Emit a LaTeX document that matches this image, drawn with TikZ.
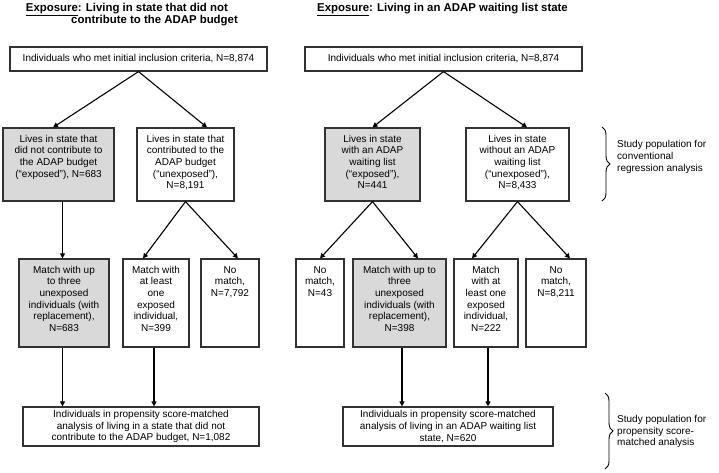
\documentclass[tikz,border=0pt]{standalone}
\usepackage{fontspec}
\setmainfont{Liberation Sans}
\usetikzlibrary{arrows.meta,decorations.pathreplacing}
\definecolor{boxgray}{RGB}{217,217,217}
\definecolor{edgegray}{RGB}{50,50,50}
\newcommand\mybx[3]{\parbox[c][#2][t]{#1}{\centering\rule{0pt}{14pt}#3\par}}
\begin{document}
\begin{tikzpicture}[x=1pt,y=-1pt,
  font=\fontsize{10}{11.7}\selectfont,
  box/.style={draw=edgegray, line width=1.2pt, inner sep=0pt, fill=white},
  gbox/.style={box, fill=boxgray},
  arr/.style={-{Triangle[length=5pt,width=5pt]}, line width=1.1pt, black},
  hdr/.style={font=\fontsize{11.4}{13}\selectfont\bfseries, inner sep=0pt},
  note/.style={anchor=west, align=left, inner sep=0pt},
  brc/.style={line width=0.9pt, decorate, decoration={brace, amplitude=8pt}}]
\useasboundingbox[fill=white] (0,0) rectangle (719,472);

% headers
\node[hdr, anchor=east] (h1) at (228,9.5) {\underline{Exposure}: Living in state that did not};
\node[hdr, anchor=east] (h2) at (238,20.5) {contribute to the ADAP budget};
\node[hdr, anchor=west] (h3) at (317,9.5) {\underline{Exposure}: Living in an ADAP waiting list state};

% top boxes
\node[box, minimum width=257, minimum height=24] (tL) at (138.5,59) {Individuals who met initial inclusion criteria, N=8,874};
\node[box, minimum width=277, minimum height=24] (tR) at (443.5,59) {Individuals who met initial inclusion criteria, N=8,874};

% second row
\node[gbox] (L1g) at (58.5,164.5) {\mybx{111pt}{73pt}{Lives in state that\\did not contribute to\\the ADAP budget\\(“exposed”), N=683}};
\node[box] (L1w) at (185.5,164.5) {\mybx{97pt}{73pt}{Lives in state that\\contributed to the\\ADAP budget\\(“unexposed”),\\N=8,191}};
\node[gbox] (R1g) at (372.5,164.5) {\mybx{95pt}{73pt}{Lives in state\\with an ADAP\\waiting list\\(“exposed”),\\N=441}};
\node[box] (R1w) at (517.5,164.5) {\mybx{103pt}{73pt}{Lives in state\\without an ADAP\\waiting list\\(“unexposed”),\\N=8,433}};

% third row
\node[gbox] (M1g) at (64,303) {\mybx{90pt}{88pt}{Match with up\\to three\\unexposed\\individuals (with\\replacement),\\N=683}};
\node[box] (M1w) at (156,303) {\mybx{66pt}{88pt}{Match with\\at least\\one\\exposed\\individual,\\N=399}};
\node[box] (M1n) at (230,303) {\mybx{58pt}{88pt}{No\\match,\\N=7,792}};
\node[box] (M2n) at (320,303) {\mybx{48pt}{88pt}{No\\match,\\N=43}};
\node[gbox] (M2g) at (399.5,303) {\mybx{93pt}{88pt}{Match with up to\\three\\unexposed\\individuals (with\\replacement),\\N=398}};
\node[box] (M2w) at (486,303) {\mybx{64pt}{88pt}{Match\\with at\\least one\\exposed\\individual,\\N=222}};
\node[box] (M2m) at (556,303) {\mybx{60pt}{88pt}{No\\match,\\N=8,211}};

% bottom boxes
\node[box, minimum width=236, minimum height=39, align=center] (BL) at (141,426.5) {Individuals in propensity score-matched\\analysis of living in a state that did not\\contribute to the ADAP budget, N=1,082};
\node[box, minimum width=210, minimum height=39, align=center] (BR) at (448,426.5) {Individuals in propensity score-matched\\analysis of living in an ADAP waiting list\\state, N=620};

% arrows
\draw[arr] (tL.south) -- ([xshift=-5.5pt]L1g.north);
\draw[arr] (tL.south) -- ([xshift=21.5pt]L1w.north);
\draw[arr] (tR.south) -- (R1g.north);
\draw[arr] (tR.south) -- ([xshift=9.5pt]R1w.north);

\draw[arr] ([xshift=4pt]L1g.south) -- ([xshift=-1.5pt]M1g.north);
\draw[arr] (L1w.south) -- ([xshift=-13pt]M1w.north);
\draw[arr] (L1w.south) -- ([xshift=8pt]M1n.north);
\draw[arr] (R1g.south) -- (M2n.north);
\draw[arr] (R1g.south) -- ([xshift=18.5pt]M2g.north);
\draw[arr] (R1w.south) -- ([xshift=-14pt]M2w.north);
\draw[arr] (R1w.south) -- ([xshift=14pt]M2m.north);

\draw[arr] ([xshift=-1.5pt]M1g.south) -- ([xshift=-1.5pt]M1g.south |- BL.north);
\draw[arr] ([xshift=-2pt]M1w.south) -- ([xshift=-2pt]M1w.south |- BL.north);
\draw[arr] ([xshift=2.5pt]M2g.south) -- ([xshift=2.5pt]M2g.south |- BR.north);
\draw[arr] ([xshift=2pt]M2w.south) -- ([xshift=2pt]M2w.south |- BR.north);

% braces
\coordinate (b1t) at (602,127);
\coordinate (b1b) at (602,201);
\draw[brc] (b1t) -- (b1b);
\node[note] (n1) at (617,157) {Study population for\\conventional\\regression analysis};
\coordinate (b2t) at (605,393);
\coordinate (b2b) at (605,469);
\draw[brc] (b2t) -- (b2b);
\node[note] (n2) at (617,431.5) {Study population for\\propensity score-\\matched analysis};
\end{tikzpicture}
\end{document}
